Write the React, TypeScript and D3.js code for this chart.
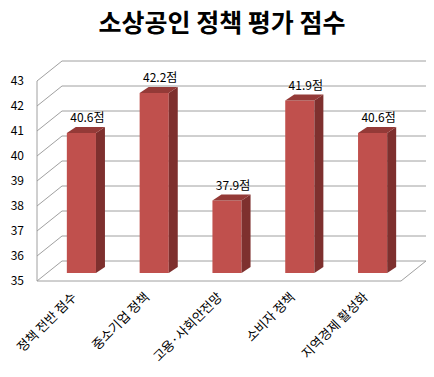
import React from "react";
import * as d3 from "d3";

const title = "소상공인 정책 평가 점수";
const categories = ["정책 전반 점수", "중소기업 정책", "고용·사회안전망", "소비자 정책", "지역경제 활성화"];
const values = [40.6, 42.2, 37.9, 41.9, 40.6];
const yTicks = [35, 36, 37, 38, 39, 40, 41, 42, 43];
const unit = "점";

const W = 434;
const H = 377;
const FONT = "'Noto Sans CJK KR', 'Noto Sans', sans-serif";

export default function App() {
  // front plane of the 3D box
  const x0 = 37, x1 = 401;
  const yBottom = 281, yTop = 81;
  const depth = { dx: 25, dy: -20 }; // wall depth
  const barOff = { dx: 8, dy: -8 }; // bar placement inside the box
  const barDepth = { dx: 9, dy: -6 };

  const y = d3.scaleLinear().domain([35, 43]).range([yBottom, yTop]);
  const x = d3
    .scaleBand<string>()
    .domain(categories)
    .range([x0 + barOff.dx, x1 + barOff.dx])
    .paddingInner(0.6)
    .paddingOuter(0.3);

  const front = "#C0504D";
  const side = "#7E302E";
  const top = "#943A37";
  const grid = "#A0A0A0";

  return (
    <svg
      width={W}
      height={H}
      style={{ position: "absolute", left: 0, top: 0, background: "#fff" }}
      fontFamily={FONT}
    >
      <text x={222} y={32} textAnchor="middle" fontSize={25} fontWeight="bold" fill="#000">
        {title}
      </text>

      {/* back wall gridlines and side wall diagonals */}
      {yTicks.map((t) => (
        <g key={t}>
          <line
            x1={x0 + depth.dx}
            x2={x1 + depth.dx}
            y1={y(t) + depth.dy}
            y2={y(t) + depth.dy}
            stroke={grid}
            strokeWidth={1}
          />
          <line
            x1={x0}
            y1={y(t)}
            x2={x0 + depth.dx}
            y2={y(t) + depth.dy}
            stroke={grid}
            strokeWidth={1}
          />
          <text x={24} y={y(t) + 4} textAnchor="end" fontSize={12} fill="#000">
            {t}
          </text>
        </g>
      ))}
      {/* front vertical axis */}
      <line x1={x0} x2={x0} y1={y(43)} y2={y(35)} stroke={grid} />
      {/* floor */}
      <line x1={x0} x2={x1} y1={y(35)} y2={y(35)} stroke={grid} />
      <line x1={x1} y1={y(35)} x2={x1 + depth.dx} y2={y(35) + depth.dy} stroke={grid} />

      {/* bars */}
      {categories.map((c, i) => {
        const bx = x(c)!;
        const bw = x.bandwidth();
        const by = y(values[i]) + barOff.dy;
        const base = y(35) + barOff.dy;
        const { dx, dy } = barDepth;
        return (
          <g key={c}>
            <rect x={bx} y={by} width={bw} height={base - by} fill={front} />
            <polygon
              points={`${bx + bw},${by} ${bx + bw + dx},${by + dy} ${bx + bw + dx},${base + dy} ${bx + bw},${base}`}
              fill={side}
            />
            <polygon
              points={`${bx},${by} ${bx + dx},${by + dy} ${bx + bw + dx},${by + dy} ${bx + bw},${by}`}
              fill={top}
            />
            <text
              x={bx + bw / 2 + 6}
              y={by - 11}
              textAnchor="middle"
              fontSize={12}
              fill="#000"
            >
              {values[i].toFixed(1) + unit}
            </text>
            <text
              transform={`translate(${bx + bw / 2 - 4},${298}) rotate(-45)`}
              textAnchor="end"
              fontSize={13}
              fill="#000"
            >
              {c}
            </text>
          </g>
        );
      })}
    </svg>
  );
}
